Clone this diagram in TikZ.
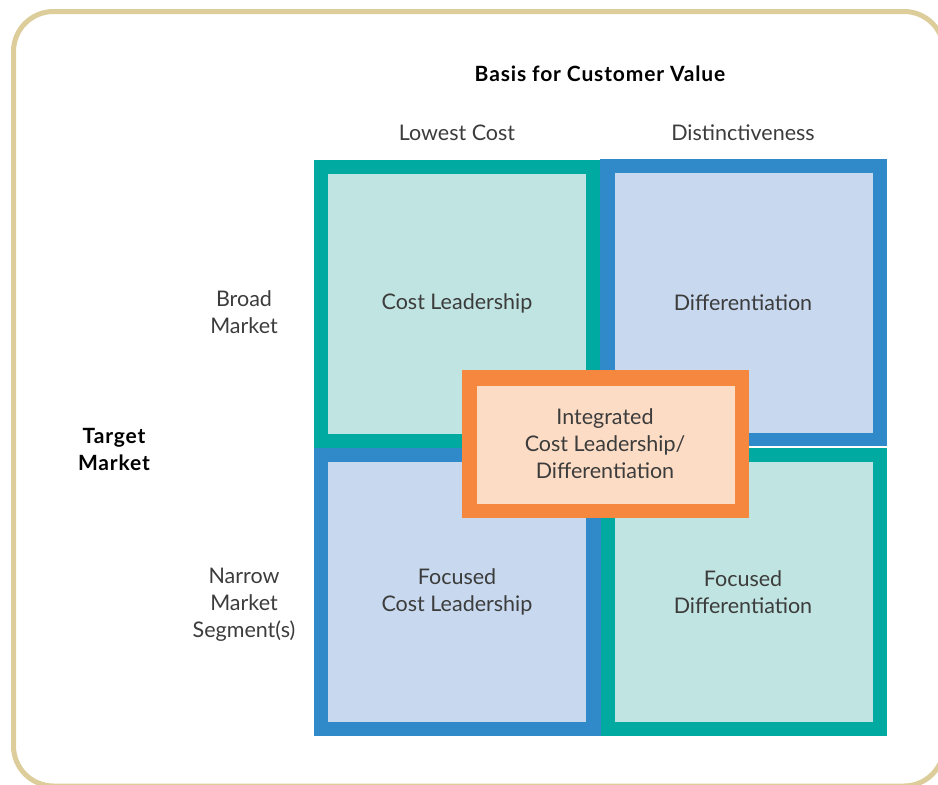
\documentclass[tikz,border=0pt]{standalone}
\usepackage{fontspec}
\setmainfont{Lato}
\definecolor{framegold}{RGB}{220,205,155}
\definecolor{tealdark}{RGB}{0,170,160}
\definecolor{teallight}{RGB}{192,228,225}
\definecolor{bluedark}{RGB}{48,137,200}
\definecolor{bluelight}{RGB}{200,217,239}
\definecolor{orangedark}{RGB}{245,135,63}
\definecolor{orangelight}{RGB}{252,220,196}
\definecolor{txtgray}{RGB}{60,60,60}
\begin{document}
\begin{tikzpicture}[x=1pt, y=-1pt, every node/.style={font=\fontsize{21.5}{27}\selectfont, text=txtgray, align=center}, heading/.style={font=\fontsize{21}{27}\selectfont\bfseries\addfontfeature{LetterSpace=4}, text=black}]
    \useasboundingbox (0,0) rectangle (938,785);
    \begin{scope}
    \clip (0,0) rectangle (938,785);
    \draw[framegold, line width=5pt, rounded corners=40pt] (13.5,11.5) rectangle (944,786);
    \end{scope}
    % quadrants
    \fill[tealdark] (314,160) rectangle (600,448);
    \fill[teallight] (328,174) rectangle (586,434);
    \fill[bluedark] (600,159) rectangle (887,446);
    \fill[bluelight] (615,173) rectangle (873,433);
    \fill[bluedark] (314,448) rectangle (601,736);
    \fill[bluelight] (328,462) rectangle (586,722);
    \fill[tealdark] (601,448) rectangle (887,736);
    \fill[teallight] (615,462) rectangle (873,722);
    % center box
    \fill[orangedark] (462,370) rectangle (749,518);
    \fill[orangelight] (477,386) rectangle (735,504);
    % labels
    \draw(600,74) node[heading] (basis) {Basis for Customer Value};
    \draw(457,133) node (lowcost) {Lowest Cost};
    \draw(743,133) node (distinct) {Distinctiveness};
    \draw(114,449) node[heading] (target) {Target\\Market};
    \draw(244,312) node (broad) {Broad\\Market};
    \draw(244,605) node (narrow) {Narrow\\Market\\Segment(s)};
    \draw(457,303) node (costlead) {Cost Leadership};
    \draw(743,303) node (diff) {Differentiation};
    \draw(605,444) node (integ) {Integrated\\Cost Leadership/\\Differentiation};
    \draw(457,592) node (focost) {Focused\\Cost Leadership};
    \draw(743,592) node (fodiff) {Focused\\Differentiation};
\end{tikzpicture}
\end{document}
